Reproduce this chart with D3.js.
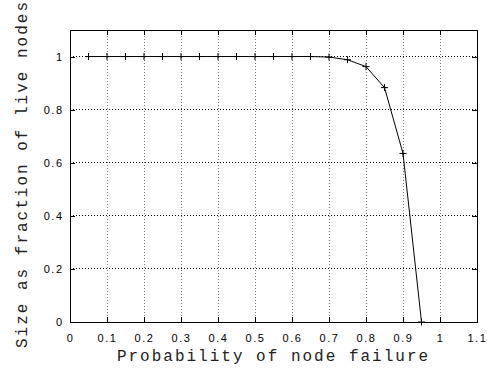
<!DOCTYPE html>
<html>
<head>
<meta charset="utf-8">
<script src="https://cdn.jsdelivr.net/npm/d3@7"></script>
<style>
  body { margin: 0; background: #fff; }
  svg { display: block; }
</style>
</head>
<body>
<div id="chart"></div>
<script>
// failure probability vs. fraction of live nodes in the largest component
const failureProb = [0.05, 0.1, 0.15, 0.2, 0.25, 0.3, 0.35, 0.4, 0.45, 0.5,
  0.55, 0.6, 0.65, 0.7, 0.75, 0.8, 0.85, 0.9, 0.95];
const liveFraction = [1, 1, 1, 1, 1, 1, 1, 1, 1, 1,
  1, 1, 1, 0.998, 0.988, 0.962, 0.883, 0.635, 0];
const xTicks = [0, 0.1, 0.2, 0.3, 0.4, 0.5, 0.6, 0.7, 0.8, 0.9, 1, 1.1];
const yTicks = [0, 0.2, 0.4, 0.6, 0.8, 1];

const W = 487, H = 371;
const margin = { top: 30, right: 10, bottom: 49, left: 70 };
const width = W - margin.left - margin.right;
const height = H - margin.top - margin.bottom;

const svg = d3.select('#chart').append('svg')
  .attr('width', W)
  .attr('height', H);

const g = svg.append('g')
  .attr('transform', `translate(${margin.left},${margin.top})`);

const x = d3.scaleLinear().domain([0, 1.1]).range([0, width]);
const y = d3.scaleLinear().domain([0, 1.1]).range([height, 0]);

// grid
g.append('g').selectAll('line')
  .data(xTicks.slice(1, -1))
  .join('line')
  .attr('x1', d => x(d)).attr('x2', d => x(d))
  .attr('y1', 0).attr('y2', height)
  .attr('stroke', '#777')
  .attr('stroke-width', 1)
  .attr('stroke-dasharray', '1,2')
  .attr('shape-rendering', 'crispEdges');

g.append('g').selectAll('line')
  .data(yTicks.slice(1))
  .join('line')
  .attr('x1', 0).attr('x2', width)
  .attr('y1', d => y(d)).attr('y2', d => y(d))
  .attr('stroke', '#000')
  .attr('stroke-width', 1)
  .attr('stroke-dasharray', '1,2')
  .attr('shape-rendering', 'crispEdges');

// axes, gnuplot style: inward ticks, mirrored
const tickFont = '"Liberation Sans", Arial, sans-serif';
const fmt = d => d3.format('')(d);

const xAxis = g.append('g')
  .attr('transform', `translate(0,${height})`)
  .call(d3.axisBottom(x).tickValues(xTicks).tickFormat(fmt).tickSize(-5).tickPadding(12));
const yAxis = g.append('g')
  .call(d3.axisLeft(y).tickValues(yTicks).tickFormat(fmt).tickSize(-5).tickPadding(6.5));
g.append('g')
  .call(d3.axisTop(x).tickValues(xTicks).tickFormat('').tickSize(-5));
g.append('g')
  .attr('transform', `translate(${width},0)`)
  .call(d3.axisRight(y).tickValues(yTicks).tickFormat('').tickSize(-5));

g.selectAll('.domain').remove();
g.selectAll('.tick line').attr('stroke', '#000').attr('shape-rendering', 'crispEdges');
[xAxis, yAxis].forEach(a => a.selectAll('text')
  .attr('fill', '#000')
  .style('font-family', tickFont)
  .style('font-size', '11px')
  .style('letter-spacing', '1.5px'));

g.append('rect')
  .attr('width', width).attr('height', height)
  .attr('fill', 'none')
  .attr('stroke', '#000')
  .attr('stroke-width', 1)
  .attr('shape-rendering', 'crispEdges');

// data line with + markers
const pts = failureProb.map((p, i) => [p, liveFraction[i]]);

g.append('path')
  .datum(pts)
  .attr('fill', 'none')
  .attr('stroke', '#000')
  .attr('stroke-width', 1)
  .attr('d', d3.line().x(d => x(d[0])).y(d => y(d[1])));

g.append('g').selectAll('path')
  .data(pts)
  .join('path')
  .attr('d', d => {
    const cx = x(d[0]), cy = y(d[1]), s = 3.5;
    return `M${cx - s},${cy}H${cx + s}M${cx},${cy - s}V${cy + s}`;
  })
  .attr('stroke', '#000')
  .attr('stroke-width', 1);

// axis titles
const labelFont = '"Liberation Mono", "Courier New", monospace';

svg.append('text')
  .attr('x', margin.left + width / 2)
  .attr('y', 361)
  .attr('text-anchor', 'middle')
  .attr('fill', '#222')
  .style('font-family', labelFont)
  .style('font-size', '16px')
  .style('letter-spacing', '2px')
  .text('Probability of node failure');

svg.append('text')
  .attr('transform', 'translate(27,174) rotate(-90)')
  .attr('text-anchor', 'middle')
  .attr('fill', '#222')
  .style('font-family', labelFont)
  .style('font-size', '16px')
  .style('letter-spacing', '2px')
  .text('Size as fraction of live nodes');
</script>
</body>
</html>
